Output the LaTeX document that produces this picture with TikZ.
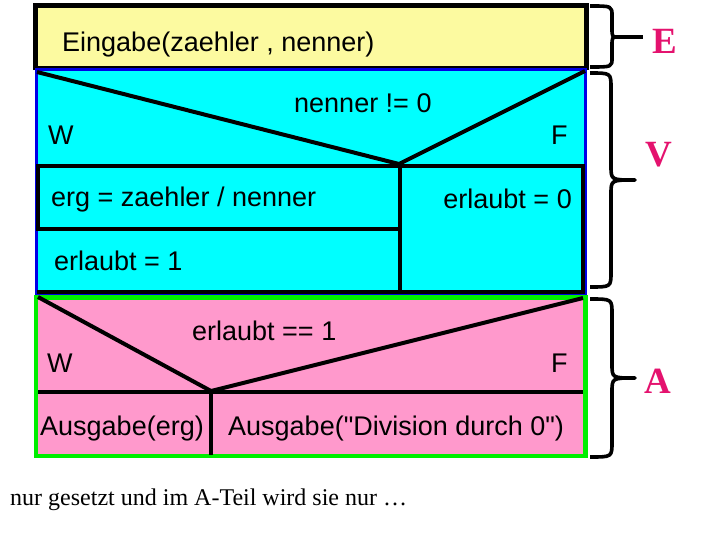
\documentclass[tikz,border=0pt]{standalone}
\usepackage{fontspec}
\setmainfont{Liberation Serif}
\newfontfamily\arialfont{Liberation Sans}
\definecolor{eyellow}{RGB}{252,250,160}
\definecolor{vcyan}{RGB}{0,255,255}
\definecolor{apink}{RGB}{255,153,204}
\definecolor{agreen}{RGB}{0,238,0}
\definecolor{vblue}{RGB}{0,0,230}
\definecolor{lettercol}{RGB}{228,18,110}
\tikzset{
  lbl/.style={inner sep=0pt, font=\arialfont\fontsize{27}{30}\selectfont, text=black},
  big/.style={inner sep=0pt, font=\bfseries\fontsize{37}{40}\selectfont, text=lettercol},
  ln/.style={line width=4pt, black},
  brace/.style={line width=3.6pt, black, line join=round},
}
\begin{document}
\begin{tikzpicture}[x=1pt,y=-1pt]
\useasboundingbox (0,0) rectangle (720,540);
% E block
\draw[fill=eyellow, line width=4.5pt] (35.5,5.5) rectangle (586.5,68);
% V block
\draw[fill=vcyan, draw=vblue, line width=3pt] (36.5,70) rectangle (585.5,295);
\draw[ln] (37,72) -- (399,164) -- (585,71);
\draw[ln] (37,166) -- (584,166);
\draw[ln] (38,166) rectangle (400,229);
\draw[ln] (400,163) -- (400,293);
\draw[ln] (400,166) rectangle (583,292);
\draw[ln] (37,292) -- (583,292);
% A block
\draw[fill=apink, draw=agreen, line width=4.5pt] (36,297.5) rectangle (585.5,456);
\draw[ln] (38,297) -- (211,391) -- (583,298);
\draw[ln] (38,392) -- (583,392);
\draw[ln] (211,391) -- (211,455);
% texts
\node[lbl, anchor=base west] (ein) at (62,52) {Eingabe(zaehler , nenner)};
\node[lbl, anchor=base west] (c1) at (294,113) {nenner != 0};
\node[lbl, anchor=base west] (w1) at (48,145) {W};
\node[lbl, anchor=base west] (f1) at (551,145) {F};
\node[lbl, anchor=base west] (erg) at (51,207) {erg = zaehler / nenner};
\node[lbl, anchor=base east] (e0) at (572,208) {erlaubt = 0};
\node[lbl, anchor=base west] (e1) at (54,270) {erlaubt = 1};
\node[lbl, anchor=base west] (c2) at (192,340) {erlaubt == 1};
\node[lbl, anchor=base west] (w2) at (47,372) {W};
\node[lbl, anchor=base west] (f2) at (551,372) {F};
\node[lbl, anchor=base west] (o1) at (40,435) {Ausgabe(erg)};
\node[lbl, anchor=base west] (o2) at (228,435) {Ausgabe("Division durch 0")};
\node[inner sep=0pt, anchor=base west, font=\fontsize{24}{28}\selectfont] (note) at (10,505) {nur gesetzt und im A-Teil wird sie nur …};
% braces
\coordinate (et) at (618,37);
\coordinate (ee) at (643,37);
\draw[brace] (590,6) .. controls (612,6) and (612,6) .. (612,16) -- (612,28) .. controls (612,37) and (612,37) .. (et) .. controls (612,37) and (612,37) .. (612,46) -- (612,58) .. controls (612,67) and (612,67) .. (590,67);
\draw[brace] (et) -- (ee);
\node[big, anchor=west] (E) at (652,41) {E};
\draw[brace] (590,73) .. controls (611,73) and (611,73) .. (611,88) -- (611,166) .. controls (611,180) and (611,180) .. (635,180) .. controls (611,180) and (611,180) .. (611,194) -- (611,272) .. controls (611,287) and (611,287) .. (590,287);
\node[big] (V) at (659,155) {V};
\draw[brace] (590,299) .. controls (612,299) and (612,299) .. (612,314) -- (612,364) .. controls (612,378) and (612,378) .. (635,378) .. controls (612,378) and (612,378) .. (612,392) -- (612,442) .. controls (612,457) and (612,457) .. (590,457);
\node[big] (A) at (658,381) {A};
\end{tikzpicture}
\end{document}
